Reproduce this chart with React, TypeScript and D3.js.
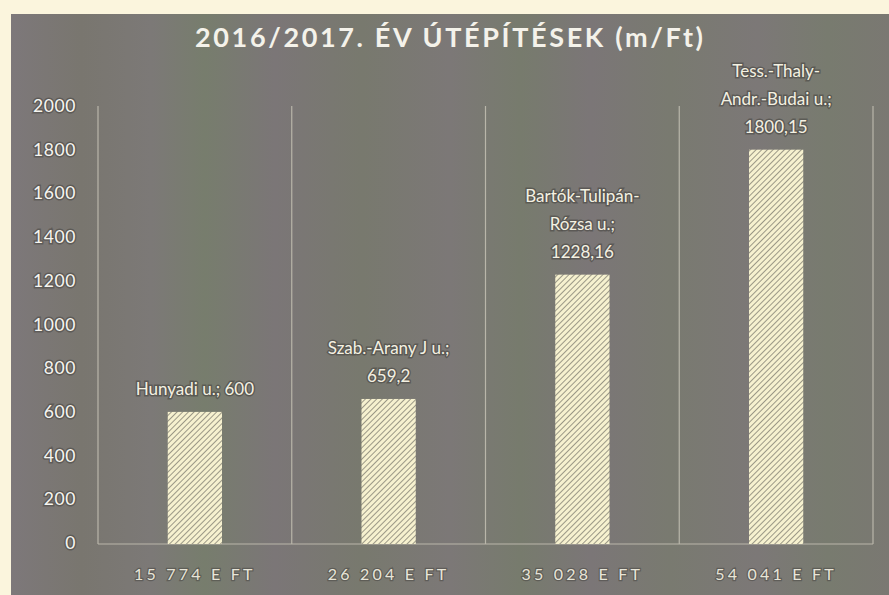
import { useEffect, useRef } from "react";
import * as d3 from "d3";

const categories = ["15 774 E FT", "26 204 E FT", "35 028 E FT", "54 041 E FT"];
const values = [600, 659.2, 1228.16, 1800.15];
const barLabels = [
  ["Hunyadi u.; 600"],
  ["Szab.-Arany J u.;", "659,2"],
  ["Bartók-Tulipán-", "Rózsa u.;", "1228,16"],
  ["Tess.-Thaly-", "Andr.-Budai u.;", "1800,15"],
];
const yTicks = [0, 200, 400, 600, 800, 1000, 1200, 1400, 1600, 1800, 2000];
const title = "2016/2017. ÉV ÚTÉPÍTÉSEK (m/Ft)";

const W = 889, H = 595;
const FONT = "Lato, 'Open Sans', sans-serif";

export default function App() {
  const ref = useRef<SVGSVGElement | null>(null);

  useEffect(() => {
    const svg = d3.select(ref.current);
    svg.selectAll("*").remove();
    svg.attr("viewBox", `0 0 ${W} ${H}`);

    const plot = { l: 98, r: 873, t: 106, b: 543 };

    const x = d3.scaleBand<string>()
      .domain(categories)
      .range([plot.l, plot.r])
      .paddingInner(0.72)
      .paddingOuter(0.36);

    const y = d3.scaleLinear()
      .domain([0, 2000])
      .range([plot.b, plot.t]);

    const defs = svg.append("defs");

    // streaky grey panel, like the scan
    const bg = defs.append("linearGradient")
      .attr("id", "panel")
      .attr("x1", "0%").attr("y1", "0%")
      .attr("x2", "100%").attr("y2", "0%");
    const stops: [number, string][] = [
      [0, "#7d787a"], [0.08, "#79766f"], [0.16, "#7c7977"], [0.22, "#777d6d"],
      [0.3, "#7b7677"], [0.4, "#78796e"], [0.5, "#7c7877"], [0.58, "#777b6d"],
      [0.66, "#7b7677"], [0.75, "#797a70"], [0.85, "#7c7877"], [0.93, "#787b6f"], [1, "#7a7872"]
    ];
    stops.forEach(([o, c]) => bg.append("stop").attr("offset", `${o * 100}%`).attr("stop-color", c));

    const hatch = defs.append("pattern")
      .attr("id", "hatch")
      .attr("patternUnits", "userSpaceOnUse")
      .attr("width", 4).attr("height", 4)
      .attr("patternTransform", "rotate(45)");
    hatch.append("rect").attr("width", 4).attr("height", 4).attr("fill", "#f6f1cf");
    hatch.append("line")
      .attr("x1", 0).attr("y1", 0).attr("x2", 0).attr("y2", 4)
      .attr("stroke", "#7c7a6e").attr("stroke-width", 1.5);

    svg.append("rect")
      .attr("x", 0).attr("y", 0).attr("width", W).attr("height", H)
      .attr("fill", "#fbf5dd");

    svg.append("rect")
      .attr("x", 11).attr("y", 14).attr("width", W - 11).attr("height", H - 14)
      .attr("fill", "url(#panel)");

    // title
    svg.append("text")
      .attr("x", 449).attr("y", 47)
      .attr("text-anchor", "middle")
      .attr("font-family", FONT)
      .attr("font-weight", 700)
      .attr("font-size", 27)
      .attr("fill", "#f4f2ea")
      .attr("textLength", 508)
      .attr("lengthAdjust", "spacing")
      .text(title);

    // category separators
    const edges = categories.map(c => (x(c) ?? 0) - x.step() * 0.36).concat([plot.r]);
    svg.append("g")
      .selectAll("line")
      .data(edges)
      .enter()
      .append("line")
      .attr("x1", d => d).attr("x2", d => d)
      .attr("y1", plot.t).attr("y2", plot.b + 1)
      .attr("stroke", "#b9b6aa")
      .attr("stroke-width", 1.2);

    svg.append("line")
      .attr("x1", plot.l).attr("x2", plot.r)
      .attr("y1", plot.b + 1).attr("y2", plot.b + 1)
      .attr("stroke", "#b9b6aa")
      .attr("stroke-width", 1.2);

    // y tick labels
    svg.append("g")
      .selectAll("text")
      .data(yTicks)
      .enter()
      .append("text")
      .attr("x", 76)
      .attr("y", d => y(d) + 6)
      .attr("text-anchor", "end")
      .attr("font-family", FONT)
      .attr("font-size", 17.5)
      .attr("fill", "#f6f5f0")
      .attr("stroke", "rgba(70,68,64,0.55)")
      .attr("stroke-width", 3)
      .attr("paint-order", "stroke")
      .attr("letter-spacing", 0.6)
      .text(d => String(d));

    // bars
    svg.append("g")
      .selectAll("rect")
      .data(values)
      .enter()
      .append("rect")
      .attr("x", (_, i) => x(categories[i]) ?? 0)
      .attr("y", d => y(d))
      .attr("width", x.bandwidth())
      .attr("height", d => y(0) - y(d) + 1)
      .attr("fill", "url(#hatch)");

    // data labels
    values.forEach((v, i) => {
      const cx = (x(categories[i]) ?? 0) + x.bandwidth() / 2;
      const lines = barLabels[i];
      const base = y(v) - 17;
      lines.forEach((t, j) => {
        svg.append("text")
          .attr("x", cx)
          .attr("y", base - (lines.length - 1 - j) * 28)
          .attr("text-anchor", "middle")
          .attr("font-family", FONT)
          .attr("font-size", 17)
          .attr("fill", "#f4f1e2")
          .attr("stroke", "rgba(72,70,66,0.6)")
          .attr("stroke-width", 3)
          .attr("paint-order", "stroke")
          .text(t);
      });
    });

    // category labels
    svg.append("g")
      .selectAll("text")
      .data(categories)
      .enter()
      .append("text")
      .attr("x", d => (x(d) ?? 0) + x.bandwidth() / 2)
      .attr("y", 580)
      .attr("text-anchor", "middle")
      .attr("font-family", FONT)
      .attr("font-size", 16)
      .attr("fill", "#e8e5d8")
      .attr("stroke", "rgba(72,70,66,0.55)")
      .attr("stroke-width", 2.5)
      .attr("paint-order", "stroke")
      .attr("letter-spacing", 3.2)
      .text(d => d);
  }, []);

  return (
    <svg
      ref={ref}
      width={W}
      height={H}
      style={{ position: "absolute", left: 0, top: 0, display: "block" }}
    />
  );
}
